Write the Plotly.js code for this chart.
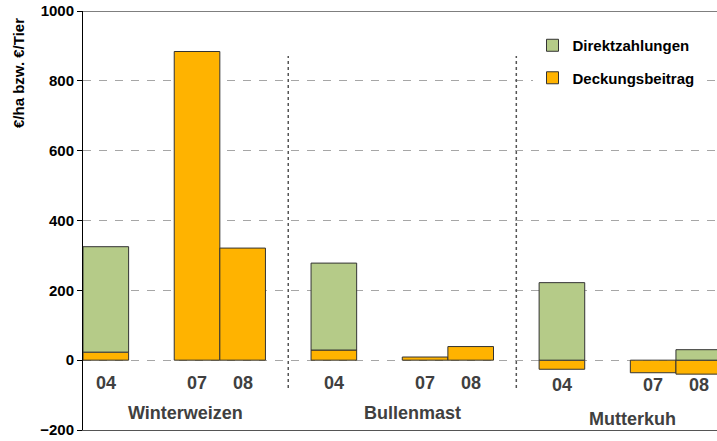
<!DOCTYPE html>
<html>
<head>
<meta charset="utf-8">
<script src="https://cdn.plot.ly/plotly-3.0.1.min.js"></script>
<style>html,body{margin:0;padding:0;background:#fff}#chart{width:717px;height:441px}</style>
</head>
<body>
<div id="chart"></div>
<script>
// ---- data ----
const groups = ['Winterweizen', 'Bullenmast', 'Mutterkuh'];
const years = ['04', '07', '08'];
// values per group, in order of years
const direktzahlungen = [[302, null, null], [249, null, null], [222, null, 30]];
const deckungsbeitrag = [[23, 884, 321], [29, 9, 39], [-26, -36, -40]];
const yTicks = [-200, 0, 200, 400, 600, 800, 1000];
const seriesNames = ['Direktzahlungen', 'Deckungsbeitrag'];
const yTitle = '€/ha bzw. €/Tier';

// ---- build category slots (year 04, gap, 07, 08, separator) ----
const cats = [];
const barX = [], dzY = [], dbY = [];
const separators = [];
groups.forEach((g, gi) => {
  cats.push(g + ' ' + years[0]);
  cats.push(g + ' gap');
  cats.push(g + ' ' + years[1]);
  cats.push(g + ' ' + years[2]);
  if (gi < groups.length - 1) { cats.push(g + ' sep'); separators.push(g + ' sep'); }
  years.forEach((y, yi) => {
    barX.push(g + ' ' + y);
    dzY.push(direktzahlungen[gi][yi]);
    dbY.push(deckungsbeitrag[gi][yi]);
  });
});

const font = 'Liberation Sans, Arial, sans-serif';
const lineCol = '#333333';

const traces = [
  {type: 'bar', name: seriesNames[1], x: barX, y: dbY, legendgroup: 'b', legendrank: 2,
   marker: {color: '#FFB300', line: {color: lineCol, width: 1}}},
  {type: 'bar', name: seriesNames[0], x: barX, y: dzY, legendgroup: 'a', legendrank: 1,
   marker: {color: '#B5CB88', line: {color: lineCol, width: 1}}}
];

const annotations = [];
groups.forEach((g, gi) => {
  years.forEach(y => {
    annotations.push({xref: 'x', yref: 'y', x: cats.indexOf(g + ' ' + y), y: 0,
      yshift: gi === 2 ? -25 : -23, yanchor: 'middle', showarrow: false, text: y,
      font: {family: font, size: 18, color: '#404040', weight: 'bold'}});
  });
  const center = (cats.indexOf(g + ' ' + years[0]) + cats.indexOf(g + ' ' + years[2])) / 2;
  annotations.push({xref: 'x', yref: 'y', x: center, y: 0,
    xshift: [11, 10, 2][gi], yshift: gi === 2 ? -59 : -53, yanchor: 'middle', showarrow: false, text: g,
    font: {family: font, size: 18, color: '#404040', weight: 'bold'}});
});
annotations.push({xref: 'paper', yref: 'paper', x: -0.1025, y: 0.852, textangle: -90,
  xanchor: 'center', yanchor: 'middle', showarrow: false, text: yTitle,
  font: {family: font, size: 15, color: '#000', weight: 'bold'}});

const shapes = separators.map(s => ({type: 'line', xref: 'x', yref: 'y', x0: s, x1: s, y0: -80, y1: 871,
  line: {color: '#555', width: 1.5, dash: 'dot'}}));
shapes.push({type: 'line', xref: 'paper', yref: 'y', x0: 0, x1: 1, y0: 1000, y1: 1000,
  line: {color: '#000', width: 1}});

const layout = {
  width: 717, height: 441,
  margin: {l: 83, r: 0, t: 11, b: 11},
  paper_bgcolor: '#fff', plot_bgcolor: '#fff',
  barmode: 'relative', bargap: 0,
  showlegend: true,
  legend: {x: 0.709, y: 0.957, xanchor: 'left', yanchor: 'top', bgcolor: '#fff',
    traceorder: 'grouped', tracegroupgap: 10,
    font: {family: font, size: 15, color: '#000', weight: 'bold'}},
  xaxis: {type: 'category', categoryorder: 'array', categoryarray: cats,
    range: [-0.5, 13.4], showticklabels: false, ticks: '', showgrid: false, zeroline: false,
    showline: true, linecolor: '#555', linewidth: 1, fixedrange: true},
  yaxis: {range: [-200, 1000], tickvals: yTicks, ticks: 'outside', ticklen: 5, tickcolor: '#000',
    showline: true, linecolor: '#000', linewidth: 1,
    showgrid: true, gridcolor: '#A6A6A6', griddash: '8px,8px', gridwidth: 1, zeroline: false,
    tickfont: {family: font, size: 15, color: '#000', weight: 'bold'}},
  annotations: annotations,
  shapes: shapes
};

Plotly.newPlot('chart', traces, layout, {displayModeBar: false, staticPlot: true});
</script>
</body>
</html>
